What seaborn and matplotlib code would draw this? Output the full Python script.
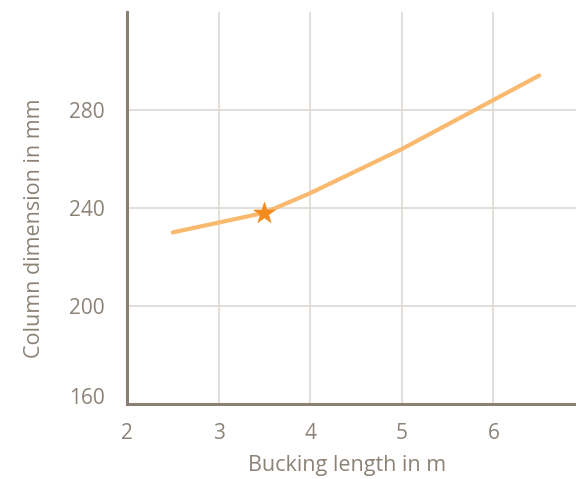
import matplotlib
matplotlib.use("Agg")
import matplotlib.pyplot as plt
import seaborn as sns
import pandas as pd

sns.set_theme(style="whitegrid")
plt.rcParams['font.family'] = ['Open Sans', 'DejaVu Sans']

# data
bucking_length = [2.5, 3.0, 3.5, 4.0, 4.5, 5.0, 5.5, 6.0, 6.5]
column_dim = [230, 234, 238, 246, 255, 264, 274, 284, 294]
marker_x = [3.5]
marker_y = [238]
x_ticks = [2, 3, 4, 5, 6]
y_ticks = [160, 200, 240, 280]

TEXT = "#8C8276"
SPINE = "#8A8072"
GRID = "#DEDAD4"
LINE = "#F9B96E"
STAR = "#F28C1E"

df = pd.DataFrame({"x": bucking_length, "y": column_dim})

fig = plt.figure(figsize=(5.76, 4.79), dpi=100)
ax = fig.add_axes([127 / 576, 75 / 479, 458 / 576, 392 / 479])

sns.lineplot(data=df, x="x", y="y", ax=ax, color=LINE, linewidth=3,
             solid_capstyle="round")
sns.scatterplot(x=marker_x, y=marker_y, ax=ax, marker="*", s=260,
                color=STAR, edgecolor=STAR, linewidth=0.5, zorder=5)

ax.set_xlim(2, 7)
ax.set_ylim(160, 319.9)
ax.set_xticks(x_ticks)
ax.set_yticks(y_ticks)
ax.set_xticklabels([str(t) for t in x_ticks])
ax.set_yticklabels([str(t) for t in y_ticks])

ax.grid(True, color=GRID, linewidth=1.2)
for s in ["top", "right"]:
    ax.spines[s].set_visible(False)
for s in ["left", "bottom"]:
    ax.spines[s].set_color(SPINE)
    ax.spines[s].set_linewidth(2.2)

ax.tick_params(axis="both", colors=TEXT, labelsize=15, length=0)
ax.tick_params(axis="x", pad=14)
ax.tick_params(axis="y", pad=16)
# lowest label sits slightly above the axis line
ax.get_yticklabels()[0].set_va("baseline")

ax.set_xlabel("Bucking length in m", color=TEXT, fontsize=15.5)
ax.set_ylabel("Column dimension in mm", color=TEXT, fontsize=15.5)
ax.xaxis.set_label_coords(0.48, -0.156)
ax.yaxis.set_label_coords(-0.201, 0.449)
ax.xaxis.label.set_va("center")
ax.yaxis.label.set_va("center")

fig.savefig("out.png", dpi=100)
